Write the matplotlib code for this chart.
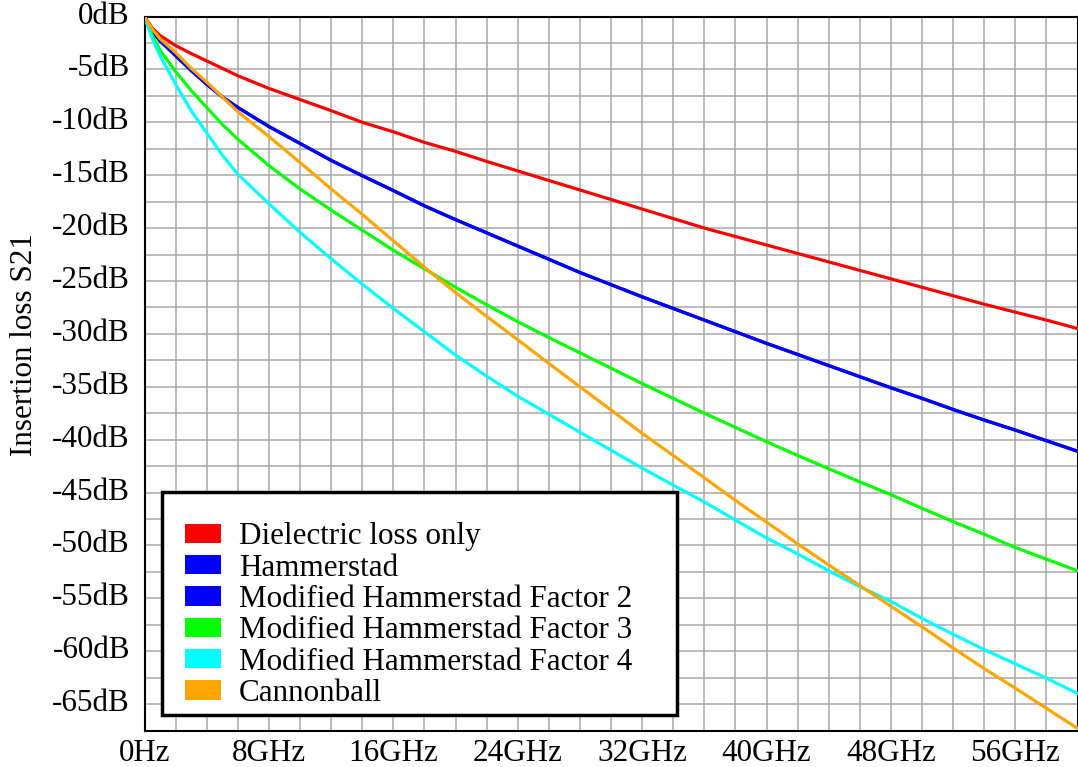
import matplotlib
matplotlib.use('Agg')
import matplotlib.pyplot as plt
import matplotlib.transforms as mtransforms
from matplotlib.patches import Patch, Rectangle
from matplotlib.ticker import MultipleLocator, FuncFormatter

plt.rcParams['font.family'] = ['Liberation Serif', 'DejaVu Serif']
plt.rcParams['font.size'] = 22.4

####### data ###############################
freq_ghz = [0, 0.5, 1, 2, 3, 4, 5, 6, 8, 10, 12, 14, 16, 18, 20, 22, 24, 26, 28, 30,
            32, 34, 36, 38, 40, 42, 44, 46, 48, 50, 52, 54, 56, 58, 60]

dielectric = [0, -1.1, -1.8, -2.75, -3.5, -4.2, -4.9, -5.6, -6.8, -7.85, -8.9, -10.0,
              -10.9, -11.9, -12.75, -13.7, -14.6, -15.5, -16.4, -17.3, -18.2, -19.1,
              -20.0, -20.8, -21.6, -22.4, -23.2, -24.0, -24.8, -25.6, -26.4, -27.2,
              -27.95, -28.7, -29.5]

hammerstad = [0, -1.4, -2.3, -3.7, -5.1, -6.4, -7.6, -8.6, -10.4, -12.0, -13.6, -15.05,
              -16.45, -17.9, -19.2, -20.45, -21.7, -22.95, -24.2, -25.35, -26.5, -27.6,
              -28.7, -29.8, -30.9, -31.95, -33.0, -34.05, -35.1, -36.1, -37.15, -38.15,
              -39.1, -40.1, -41.1]

# factor 2 sits right on top of plain Hammerstad
mod_hammerstad_2 = list(hammerstad)

mod_hammerstad_3 = [0, -1.8, -3.2, -5.2, -7.0, -8.6, -10.2, -11.6, -14.1, -16.3, -18.3,
                    -20.2, -22.1, -23.85, -25.6, -27.25, -28.85, -30.35, -31.8, -33.25,
                    -34.7, -36.1, -37.5, -38.85, -40.2, -41.5, -42.75, -44.0, -45.2,
                    -46.5, -47.75, -48.95, -50.2, -51.3, -52.4]

mod_hammerstad_4 = [0, -2.1, -3.7, -6.4, -8.9, -11.0, -13.1, -14.9, -17.7, -20.4, -22.9,
                    -25.3, -27.6, -29.8, -32.0, -34.0, -35.9, -37.6, -39.3, -41.0,
                    -42.7, -44.3, -45.9, -47.6, -49.3, -50.8, -52.4, -53.9, -55.3,
                    -56.9, -58.4, -59.85, -61.2, -62.55, -64.0]

cannonball = [0, -1.2, -2.1, -3.4, -4.9, -6.2, -7.6, -9.0, -11.35, -13.8, -16.3, -18.7,
              -21.2, -23.7, -26.1, -28.35, -30.55, -32.8, -35.0, -37.2, -39.4, -41.5,
              -43.6, -45.75, -47.8, -49.85, -51.85, -53.8, -55.75, -57.7, -59.7, -61.65,
              -63.5, -65.4, -67.3]

labels = ['Dielectric loss only', 'Hammerstad', 'Modified Hammerstad Factor 2',
          'Modified Hammerstad Factor 3', 'Modified Hammerstad Factor 4', 'Cannonball']
colors = ['#ff0000', '#0000ff', '#0000ff', '#00ff00', '#00ffff', '#ffa500']
series = [dielectric, hammerstad, mod_hammerstad_2, mod_hammerstad_3,
          mod_hammerstad_4, cannonball]

W, H = 1078, 767
fig = plt.figure(figsize=(W / 100, H / 100), dpi=100)
ax = fig.add_axes([144.5 / W, 1 - 730.5 / H, (1077.5 - 144.5) / W, (730.5 - 16.5) / H])

for vals, col in zip(series, colors):
    ax.plot(freq_ghz, vals, color=col, lw=2.3, solid_joinstyle='round', zorder=3)

ax.set_xlim(0, 60)
ax.set_ylim(-67.5, 0)

ax.xaxis.set_major_locator(MultipleLocator(8))
ax.xaxis.set_minor_locator(MultipleLocator(2))
ax.yaxis.set_major_locator(MultipleLocator(5))
ax.yaxis.set_minor_locator(MultipleLocator(2.5))
ax.xaxis.set_major_formatter(FuncFormatter(lambda v, p: '0Hz' if v == 0 else '%dGHz' % v))
ax.yaxis.set_major_formatter(FuncFormatter(lambda v, p: '%ddB' % round(v)))

ax.grid(which='both', color='#a8a8a8', lw=1.1, zorder=0)
ax.tick_params(which='both', length=0)
ax.tick_params(axis='x', pad=6)
ax.tick_params(axis='y', pad=10.5)

# labels sit a touch above their gridline in the original
shift = mtransforms.ScaledTranslation(0, 4 / 100, fig.dpi_scale_trans)
for lab in ax.get_yticklabels():
    lab.set_transform(lab.get_transform() + shift)

for sp in ax.spines.values():
    sp.set_color('black')
    sp.set_linewidth(1.5)

fig.text(25 / W, 1 - 344 / H, 'Insertion loss S21', rotation=90, ha='center', va='center')

# legend box is roomier than the entries need, so the frame is drawn separately
box = Rectangle((162 / W, 1 - 715 / H), (677 - 162) / W, (715 - 492) / H,
                transform=fig.transFigure, facecolor='white', edgecolor='black',
                lw=2.5, clip_on=False, zorder=4)
ax.add_patch(box)

handles = [Patch(facecolor=c, edgecolor='none') for c in colors]
leg = ax.legend(handles, labels, loc='upper left', bbox_to_anchor=(162 / W, 1 - 499 / H),
                bbox_transform=fig.transFigure, borderaxespad=0, frameon=False,
                handlelength=1.15, handleheight=0.57, handletextpad=0.58,
                labelspacing=0.075, borderpad=0.75)
leg.set_zorder(5)

fig.savefig('out.png', dpi=100)
